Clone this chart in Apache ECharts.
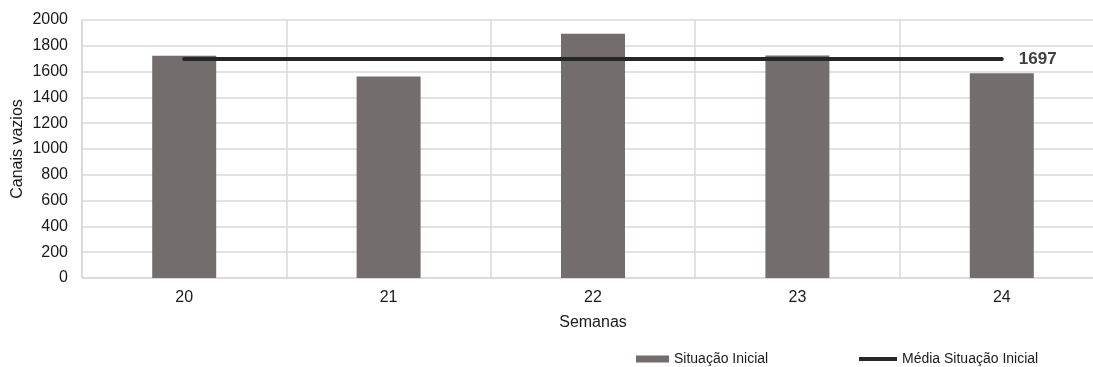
<!DOCTYPE html>
<html>
<head>
<meta charset="utf-8">
<script src="https://cdn.jsdelivr.net/npm/echarts@6/dist/echarts.min.js"></script>
<style>
  html, body { margin: 0; padding: 0; background: #fff; overflow: hidden; }
  #chart { width: 1104px; height: 367px; }
</style>
</head>
<body>
<div id="chart"></div>
<script>
// Weekly empty channels and their average
const semanas = ['20', '21', '22', '23', '24'];
const situacaoInicial = [1722, 1562, 1893, 1725, 1588];
const mediaSituacaoInicial = [1697, 1697, 1697, 1697, 1697];
const yTicks = { min: 0, max: 2000, interval: 200 };

const FONT = '"Liberation Sans", Arial, sans-serif';
const TEXT_COLOR = '#1a1a1a';
const GRID_COLOR = '#d9d9d9';

const chart = echarts.init(document.getElementById('chart'), null, { renderer: 'canvas' });

chart.setOption({
  animation: false,
  backgroundColor: '#ffffff',
  textStyle: { fontFamily: FONT },
  grid: {
    left: 82, right: 0, top: 20, bottom: 89,
    containLabel: false,
    outerBoundsMode: 'none'
  },
  legend: [
    {
      data: [{ name: 'Situação Inicial', icon: 'rect' }],
      left: 636, top: 352, padding: 0,
      itemWidth: 33, itemHeight: 7,
      textStyle: { fontFamily: FONT, fontSize: 14, color: TEXT_COLOR }
    },
    {
      data: [{ name: 'Média Situação Inicial', icon: 'rect' }],
      left: 859, top: 352, padding: 0,
      itemWidth: 38, itemHeight: 4,
      textStyle: { fontFamily: FONT, fontSize: 14, color: TEXT_COLOR }
    }
  ],
  xAxis: {
    type: 'category',
    data: semanas,
    boundaryGap: true,
    name: 'Semanas',
    nameLocation: 'middle',
    nameGap: 37,
    nameTextStyle: { fontFamily: FONT, fontSize: 16, color: TEXT_COLOR },
    axisLine: { show: true, lineStyle: { color: GRID_COLOR, width: 1.5 } },
    axisTick: { show: false },
    axisLabel: { fontFamily: FONT, fontSize: 16, color: TEXT_COLOR, margin: 12 },
    splitLine: { show: true, lineStyle: { color: GRID_COLOR, width: 1.5 } }
  },
  yAxis: {
    type: 'value',
    min: yTicks.min, max: yTicks.max, interval: yTicks.interval,
    name: 'Canais vazios',
    nameLocation: 'middle',
    nameRotate: 90,
    nameGap: 56,
    nameMoveOverlap: false,
    nameTextStyle: { fontFamily: FONT, fontSize: 16, color: TEXT_COLOR },
    axisLine: { show: true, lineStyle: { color: GRID_COLOR, width: 1.5 } },
    axisTick: { show: false },
    axisLabel: {
      fontFamily: FONT, fontSize: 16, color: TEXT_COLOR, margin: 14,
      formatter: (v) => String(v)
    },
    splitLine: { show: true, lineStyle: { color: GRID_COLOR, width: 1.5 } }
  },
  series: [
    {
      name: 'Situação Inicial',
      type: 'bar',
      data: situacaoInicial,
      barWidth: 64,
      itemStyle: { color: '#736e6d' },
      z: 2
    },
    {
      name: 'Média Situação Inicial',
      type: 'line',
      data: mediaSituacaoInicial,
      symbol: 'none',
      lineStyle: { color: '#262626', width: 4, cap: 'round' },
      itemStyle: { color: '#262626' },
      z: 3,
      endLabel: {
        show: true,
        formatter: (p) => String(p.value),
        fontFamily: FONT,
        fontSize: 17,
        fontWeight: 'bold',
        color: '#404040',
        distance: 17
      }
    }
  ]
});
</script>
</body>
</html>
